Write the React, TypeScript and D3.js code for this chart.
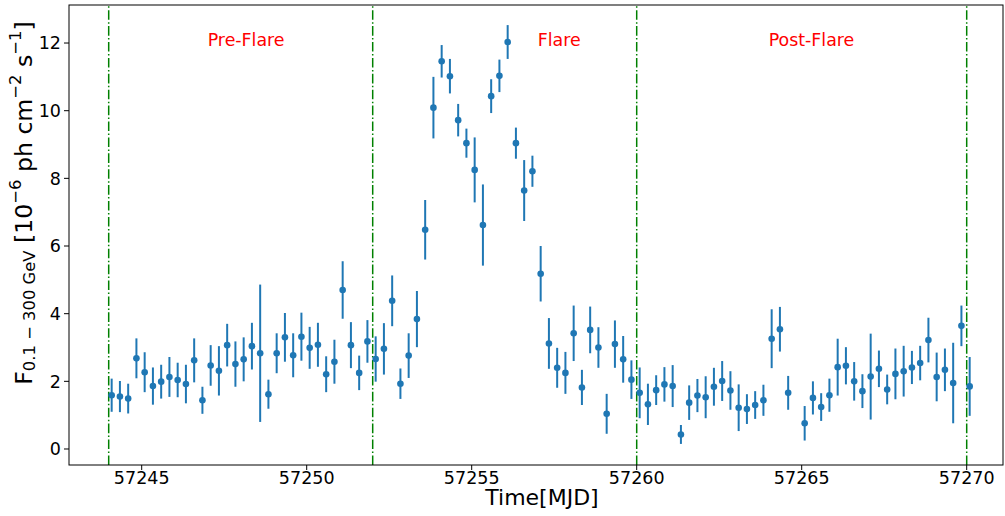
import React from 'react';
import * as d3 from 'd3';

// Time bin centres (MJD), 6-hour bins; one empty bin near 57264.84
const times: number[] = [
  57244.09, 57244.34, 57244.59, 57244.84,
  57245.09, 57245.34, 57245.59, 57245.84,
  57246.09, 57246.34, 57246.59, 57246.84,
  57247.09, 57247.34, 57247.59, 57247.84,
  57248.09, 57248.34, 57248.59, 57248.84,
  57249.09, 57249.34, 57249.59, 57249.84,
  57250.09, 57250.34, 57250.59, 57250.84,
  57251.09, 57251.34, 57251.59, 57251.84,
  57252.09, 57252.34, 57252.59, 57252.84,
  57253.09, 57253.34, 57253.59, 57253.84,
  57254.09, 57254.34, 57254.59, 57254.84,
  57255.09, 57255.34, 57255.59, 57255.84,
  57256.09, 57256.34, 57256.59, 57256.84,
  57257.09, 57257.34, 57257.59, 57257.84,
  57258.09, 57258.34, 57258.59, 57258.84,
  57259.09, 57259.34, 57259.59, 57259.84,
  57260.09, 57260.34, 57260.59, 57260.84,
  57261.09, 57261.34, 57261.59, 57261.84,
  57262.09, 57262.34, 57262.59, 57262.84,
  57263.09, 57263.34, 57263.59, 57263.84,
  57264.09, 57264.34, 57264.59,
  57265.09, 57265.34, 57265.59, 57265.84,
  57266.09, 57266.34, 57266.59, 57266.84,
  57267.09, 57267.34, 57267.59, 57267.84,
  57268.09, 57268.34, 57268.59, 57268.84,
  57269.09, 57269.34, 57269.59, 57269.84,
  57270.09,
];

// Flux, 10^-6 ph cm^-2 s^-1
const flux: number[] = [
  1.59, 1.55, 1.49, 2.68, 2.27, 1.86, 1.99, 2.13, 2.04, 1.92, 2.62, 1.44, 2.47, 2.31, 3.07, 2.51, 2.65, 3.04,
  2.83, 1.62, 2.83, 3.30, 2.77, 3.32, 2.99, 3.08, 2.21, 2.58, 4.70, 3.07, 2.25, 3.18, 2.66, 2.96, 4.38, 1.93,
  2.76, 3.84, 6.48, 10.09, 11.46, 11.02, 9.72, 9.04, 8.25, 6.62, 10.43, 11.03, 12.03, 9.04,
  7.64, 8.21, 5.18, 3.12, 2.40, 2.25, 3.42, 1.82, 3.52, 3.00, 1.04, 3.10, 2.65, 2.05, 1.66, 1.32,
  1.74, 1.91, 1.86, 0.43, 1.37, 1.58, 1.53, 1.84, 2.01, 1.73, 1.22, 1.18, 1.30, 1.44, 3.26, 3.54, 1.66,
  0.76, 1.51, 1.24, 1.59, 2.42, 2.46, 2.00, 1.71, 2.14, 2.37, 1.76, 2.22, 2.30, 2.41, 2.54, 3.22, 2.13, 2.34, 1.95, 3.64, 1.85,
];

const fluxErr: number[] = [
  0.49, 0.46, 0.44, 0.59, 0.59, 0.55, 0.50, 0.59, 0.51, 0.57, 0.65, 0.40, 0.60, 0.73, 0.63, 0.67, 0.65, 0.69,
  2.03, 0.43, 0.59, 0.72, 0.65, 0.71, 0.62, 0.65, 0.53, 0.65, 0.85, 0.68, 0.51, 0.63, 0.67, 0.76, 0.75, 0.45,
  0.66, 0.83, 0.88, 0.91, 0.48, 0.51, 0.48, 0.43, 0.96, 1.20, 0.50, 0.48, 0.50, 0.46,
  0.90, 0.46, 0.82, 0.75, 0.59, 0.62, 0.82, 0.52, 0.69, 0.60, 0.59, 0.70, 0.69, 0.57, 0.75, 0.61,
  0.44, 0.51, 0.62, 0.28, 0.51, 0.49, 0.62, 0.56, 0.59, 0.57, 0.69, 0.44, 0.41, 0.46, 0.87, 0.66, 0.50,
  0.51, 0.49, 0.41, 0.49, 0.84, 0.55, 0.57, 0.50, 1.27, 0.54, 0.44, 0.75, 0.75, 0.49, 0.51, 0.66, 0.72, 0.63, 1.19, 0.60, 0.87,
];

const xTicks: number[] = [57245, 57250, 57255, 57260, 57265, 57270];
const yTicks: number[] = [0, 2, 4, 6, 8, 10, 12];
const phaseBoundaries: number[] = [57244, 57252, 57260, 57270];
const phaseLabels: string[] = ['Pre-Flare', 'Flare', 'Post-Flare'];
const phaseLabelX: number[] = [57247, 57257, 57264];
const phaseLabelY = 11.9;

const FONT = '"DejaVu Sans", sans-serif';
const BLUE = '#1f77b4';

export default function App() {
  const W = 1005;
  const H = 516;
  const left = 69, right = 1003, top = 5, bottom = 465;
  const x = d3.scaleLinear().domain([57242.797, 57271.1]).range([left, right]);
  const y = d3.scaleLinear().domain([-0.473, 13.124]).range([bottom, top]);

  const vline = d3.line<[number, number]>().x(d => x(d[0])).y(d => y(d[1]));

  return (
    <svg width={W} height={H} style={{ position: 'absolute', left: 0, top: 0, display: 'block', background: '#fff' }}
      fontFamily={FONT}>
      <defs>
        <clipPath id="plotArea">
          <rect x={left} y={top} width={right - left} height={bottom - top} />
        </clipPath>
      </defs>

      {/* phase boundaries */}
      <g clipPath="url(#plotArea)">
        {phaseBoundaries.map((b, i) => (
          <path key={i} d={vline([[b, -0.473], [b, 13.124]]) || ''} stroke="#008000" strokeWidth={1.5}
            strokeDasharray="9.6,2.4,1.5,2.4" fill="none" />
        ))}
      </g>

      {/* phase labels */}
      {phaseLabels.map((t, i) => (
        <text key={t} x={x(phaseLabelX[i])} y={y(phaseLabelY)} fill="#ff0000" fontSize={17.4}>{t}</text>
      ))}

      {/* error bars and points */}
      <g clipPath="url(#plotArea)">
        {times.map((t, i) => (
          <line key={'e' + i} x1={x(t)} x2={x(t)} y1={y(flux[i] - fluxErr[i])} y2={y(flux[i] + fluxErr[i])}
            stroke={BLUE} strokeWidth={2} />
        ))}
        {times.map((t, i) => (
          <circle key={'p' + i} cx={x(t)} cy={y(flux[i])} r={3.3} fill={BLUE} />
        ))}
      </g>

      {/* frame */}
      <rect x={left} y={top} width={right - left} height={bottom - top} fill="none" stroke="#000" strokeWidth={1} />

      {/* x ticks */}
      {xTicks.map(v => (
        <g key={'xt' + v}>
          <line x1={x(v)} x2={x(v)} y1={bottom} y2={bottom + 5} stroke="#000" strokeWidth={1} />
          <text x={x(v)} y={bottom + 18.5} textAnchor="middle" fontSize={17.5} fill="#000">{v}</text>
        </g>
      ))}

      {/* y ticks */}
      {yTicks.map(v => (
        <g key={'yt' + v}>
          <line x1={left - 5} x2={left} y1={y(v)} y2={y(v)} stroke="#000" strokeWidth={1} />
          <text x={left - 8} y={y(v) + 6.3} textAnchor="end" fontSize={17.5} fill="#000">{v}</text>
        </g>
      ))}

      {/* x label */}
      <text x={542} y={505} textAnchor="middle" fontSize={22} fill="#000">Time[MJD]</text>

      {/* y label */}
      <text transform="translate(32,203) rotate(-90)" textAnchor="middle" fontSize={23.6} fill="#000">
        <tspan>F</tspan>
        <tspan fontSize={16.4} dy={3}>0.1 − 300 GeV</tspan>
        <tspan dy={-3}> [10</tspan>
        <tspan fontSize={16.4} dy={-11}>−6</tspan>
        <tspan dy={11}> ph cm</tspan>
        <tspan fontSize={16.4} dy={-11}>−2</tspan>
        <tspan dy={11}> s</tspan>
        <tspan fontSize={16.4} dy={-11}>−1</tspan>
        <tspan dy={11}>]</tspan>
      </text>
    </svg>
  );
}
